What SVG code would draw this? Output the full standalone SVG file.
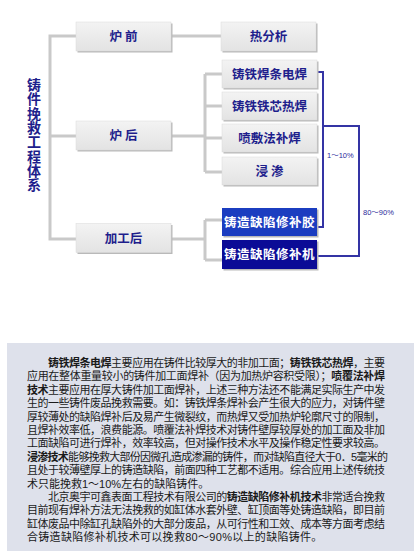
<svg xmlns="http://www.w3.org/2000/svg" width="420" height="558" viewBox="0 0 420 558">
<style>
.cj{font-family:"Noto Sans CJK SC","Noto Sans",sans-serif}
.cp{font-family:"Liberation Sans","Noto Sans CJK SC",sans-serif}
.bl{font-weight:bold;font-size:12.5px;fill:#1e1e8c;text-anchor:middle}
.wl{font-weight:bold;font-size:12.5px;fill:#ffffff;text-anchor:middle;letter-spacing:0.5px}
.gl{fill:none;stroke:#c9c9c9;stroke-width:3}
.bln{fill:none;stroke:#3434a4;stroke-width:2}
.pct{font-family:"Liberation Sans","Noto Sans CJK SC",sans-serif;font-size:7.5px;fill:#2a2a9a}
.pt{font-size:11px;fill:#1a1a1a}
.b{font-weight:bold}
.sh{fill:#b9b9b9}
</style>
<defs>
<linearGradient id="gg" x1="0" y1="0" x2="0" y2="1">
<stop offset="0" stop-color="#f3f3f3"/>
<stop offset="1" stop-color="#e3e3e3"/>
</linearGradient>
</defs>
<rect width="420" height="558" fill="#ffffff"/>

<g id="title">
<text class="cj" x="34 34 34 34 34 34 34 34" y="90 104.3 118.6 132.9 147.2 161.5 175.8 190.1" font-size="14" font-weight="bold" fill="#1e1e8c" text-anchor="middle">铸件挽救工程体系</text>
</g>

<g id="connectors">
<path class="gl" d="M76 36 H50 V239 H76 M50 136 H76"/>
<path class="gl" d="M171 36 H221"/>
<path class="gl" d="M171 136 H205 M205 74 V172 M205 74 H222 M205 106 H222 M205 138 H222 M205 172 H222"/>
<path class="gl" d="M171 239 H205 M205 220 V260 M205 220 H222 M205 260 H222"/>
<path class="bln" d="M317 72 H323 V227 H317"/>
<path class="bln" d="M323 126 H359 V256 H317"/>
<text class="pct" x="327" y="158">1～10%</text>
<text class="pct" x="363" y="215">80～90%</text>
</g>

<g id="n-luqian">
<rect class="sh" x="77.5" y="23.5" width="95" height="29"/>
<rect x="76" y="22" width="95" height="29" fill="url(#gg)" stroke="#dadada" stroke-width="0.5"/>
<text class="cj bl" x="123.5" y="41">炉 前</text>
</g>
<g id="n-luhou">
<rect class="sh" x="77.5" y="122.5" width="95" height="29"/>
<rect x="76" y="121" width="95" height="29" fill="url(#gg)" stroke="#dadada" stroke-width="0.5"/>
<text class="cj bl" x="123.5" y="140">炉 后</text>
</g>
<g id="n-jiagonghou">
<rect class="sh" x="77.5" y="225" width="95" height="29"/>
<rect x="76" y="223.5" width="95" height="29" fill="url(#gg)" stroke="#dadada" stroke-width="0.5"/>
<text class="cj bl" x="123.5" y="242.5">加工后</text>
</g>
<g id="n-refenxi">
<rect class="sh" x="222.5" y="23.5" width="95" height="29"/>
<rect x="221" y="22" width="95" height="29" fill="url(#gg)" stroke="#dadada" stroke-width="0.5"/>
<text class="cj bl" x="268.5" y="41">热分析</text>
</g>
<g id="n-handian">
<rect class="sh" x="223.5" y="61.5" width="95" height="28"/>
<rect x="222" y="60" width="95" height="28" fill="url(#gg)" stroke="#dadada" stroke-width="0.5"/>
<text class="cj bl" x="269.5" y="78.5">铸铁焊条电焊</text>
</g>
<g id="n-rehan">
<rect class="sh" x="223.5" y="93.5" width="95" height="28"/>
<rect x="222" y="92" width="95" height="28" fill="url(#gg)" stroke="#dadada" stroke-width="0.5"/>
<text class="cj bl" x="269.5" y="110.5">铸铁铁芯热焊</text>
</g>
<g id="n-penfu">
<rect class="sh" x="223.5" y="125.5" width="95" height="28"/>
<rect x="222" y="124" width="95" height="28" fill="url(#gg)" stroke="#dadada" stroke-width="0.5"/>
<text class="cj bl" x="269.5" y="142.5">喷敷法补焊</text>
</g>
<g id="n-jinshen">
<rect class="sh" x="223.5" y="158.5" width="95" height="28"/>
<rect x="222" y="157" width="95" height="28" fill="url(#gg)" stroke="#dadada" stroke-width="0.5"/>
<text class="cj bl" x="269.5" y="175.5">浸 渗</text>
</g>
<g id="n-bujiao">
<rect class="sh" x="223.5" y="209.5" width="95" height="28"/>
<rect x="222" y="208" width="95" height="28" fill="#1b3dc0"/>
<text class="cj wl" x="269.5" y="226.5">铸造缺陷修补胶</text>
</g>
<g id="n-buji">
<rect class="sh" x="223.5" y="241.5" width="95" height="29"/>
<rect x="222" y="240" width="95" height="29" fill="#0b0b96"/>
<text class="cj wl" x="269.5" y="259">铸造缺陷修补机</text>
</g>

<g id="panel">
<rect x="7" y="343" width="407" height="208" fill="#dee1eb"/>
<text class="cp pt" x="48" y="367" textLength="337" lengthAdjust="spacing"><tspan class="b">铸铁焊条电焊</tspan>主要应用在铸件比较厚大的非加工面；<tspan class="b">铸铁铁芯热焊</tspan>，主要</text>
<text class="cp pt" x="27" y="380.4" textLength="358" lengthAdjust="spacing">应用在整体重量较小的铸件加工面焊补（因为加热炉容积受限）；<tspan class="b">喷覆法补焊</tspan></text>
<text class="cp pt" x="27" y="393.8" textLength="358" lengthAdjust="spacing"><tspan class="b">技术</tspan>主要应用在厚大铸件加工面焊补，上述三种方法还不能满足实际生产中发</text>
<text class="cp pt" x="27" y="407.2" textLength="358" lengthAdjust="spacing">生的一些铸件废品挽救需要。如：铸铁焊条焊补会产生很大的应力，对铸件壁</text>
<text class="cp pt" x="27" y="420.6" textLength="358" lengthAdjust="spacing">厚较薄处的缺陷焊补后及易产生微裂纹，而热焊又受加热炉轮廓尺寸的限制，</text>
<text class="cp pt" x="27" y="434" textLength="358" lengthAdjust="spacing">且焊补效率低，浪费能源。喷覆法补焊技术对铸件壁厚较厚处的加工面及非加</text>
<text class="cp pt" x="27" y="447.4" textLength="358" lengthAdjust="spacing">工面缺陷可进行焊补，效率较高，但对操作技术水平及操作稳定性要求较高。</text>
<text class="cp pt" x="27" y="460.8" textLength="361" lengthAdjust="spacing"><tspan class="b">浸渗技术</tspan>能够挽救大部份因微孔造成渗漏的铸件，而对缺陷直径大于0．5毫米的</text>
<text class="cp pt" x="27" y="474.2" textLength="358" lengthAdjust="spacing">且处于较薄壁厚上的铸造缺陷，前面四种工艺都不适用。综合应用上述传统技</text>
<text class="cp pt" x="27" y="487.6">术只能挽救1～10%左右的缺陷铸件。</text>
<text class="cp pt" x="48" y="501" textLength="337" lengthAdjust="spacing">北京奥宇可鑫表面工程技术有限公司的<tspan class="b">铸造缺陷修补机技术</tspan>非常适合挽救</text>
<text class="cp pt" x="27" y="514.4" textLength="358" lengthAdjust="spacing">目前现有焊补方法无法挽救的如缸体水套外壁、缸顶面等处铸造缺陷，即目前</text>
<text class="cp pt" x="27" y="527.8" textLength="358" lengthAdjust="spacing">缸体废品中除缸孔缺陷外的大部分废品，从可行性和工效、成本等方面考虑结</text>
<text class="cp pt" x="27" y="541.2" letter-spacing="0.3">合铸造缺陷修补机技术可以挽救80～90%以上的缺陷铸件。</text>
</g>
</svg>
